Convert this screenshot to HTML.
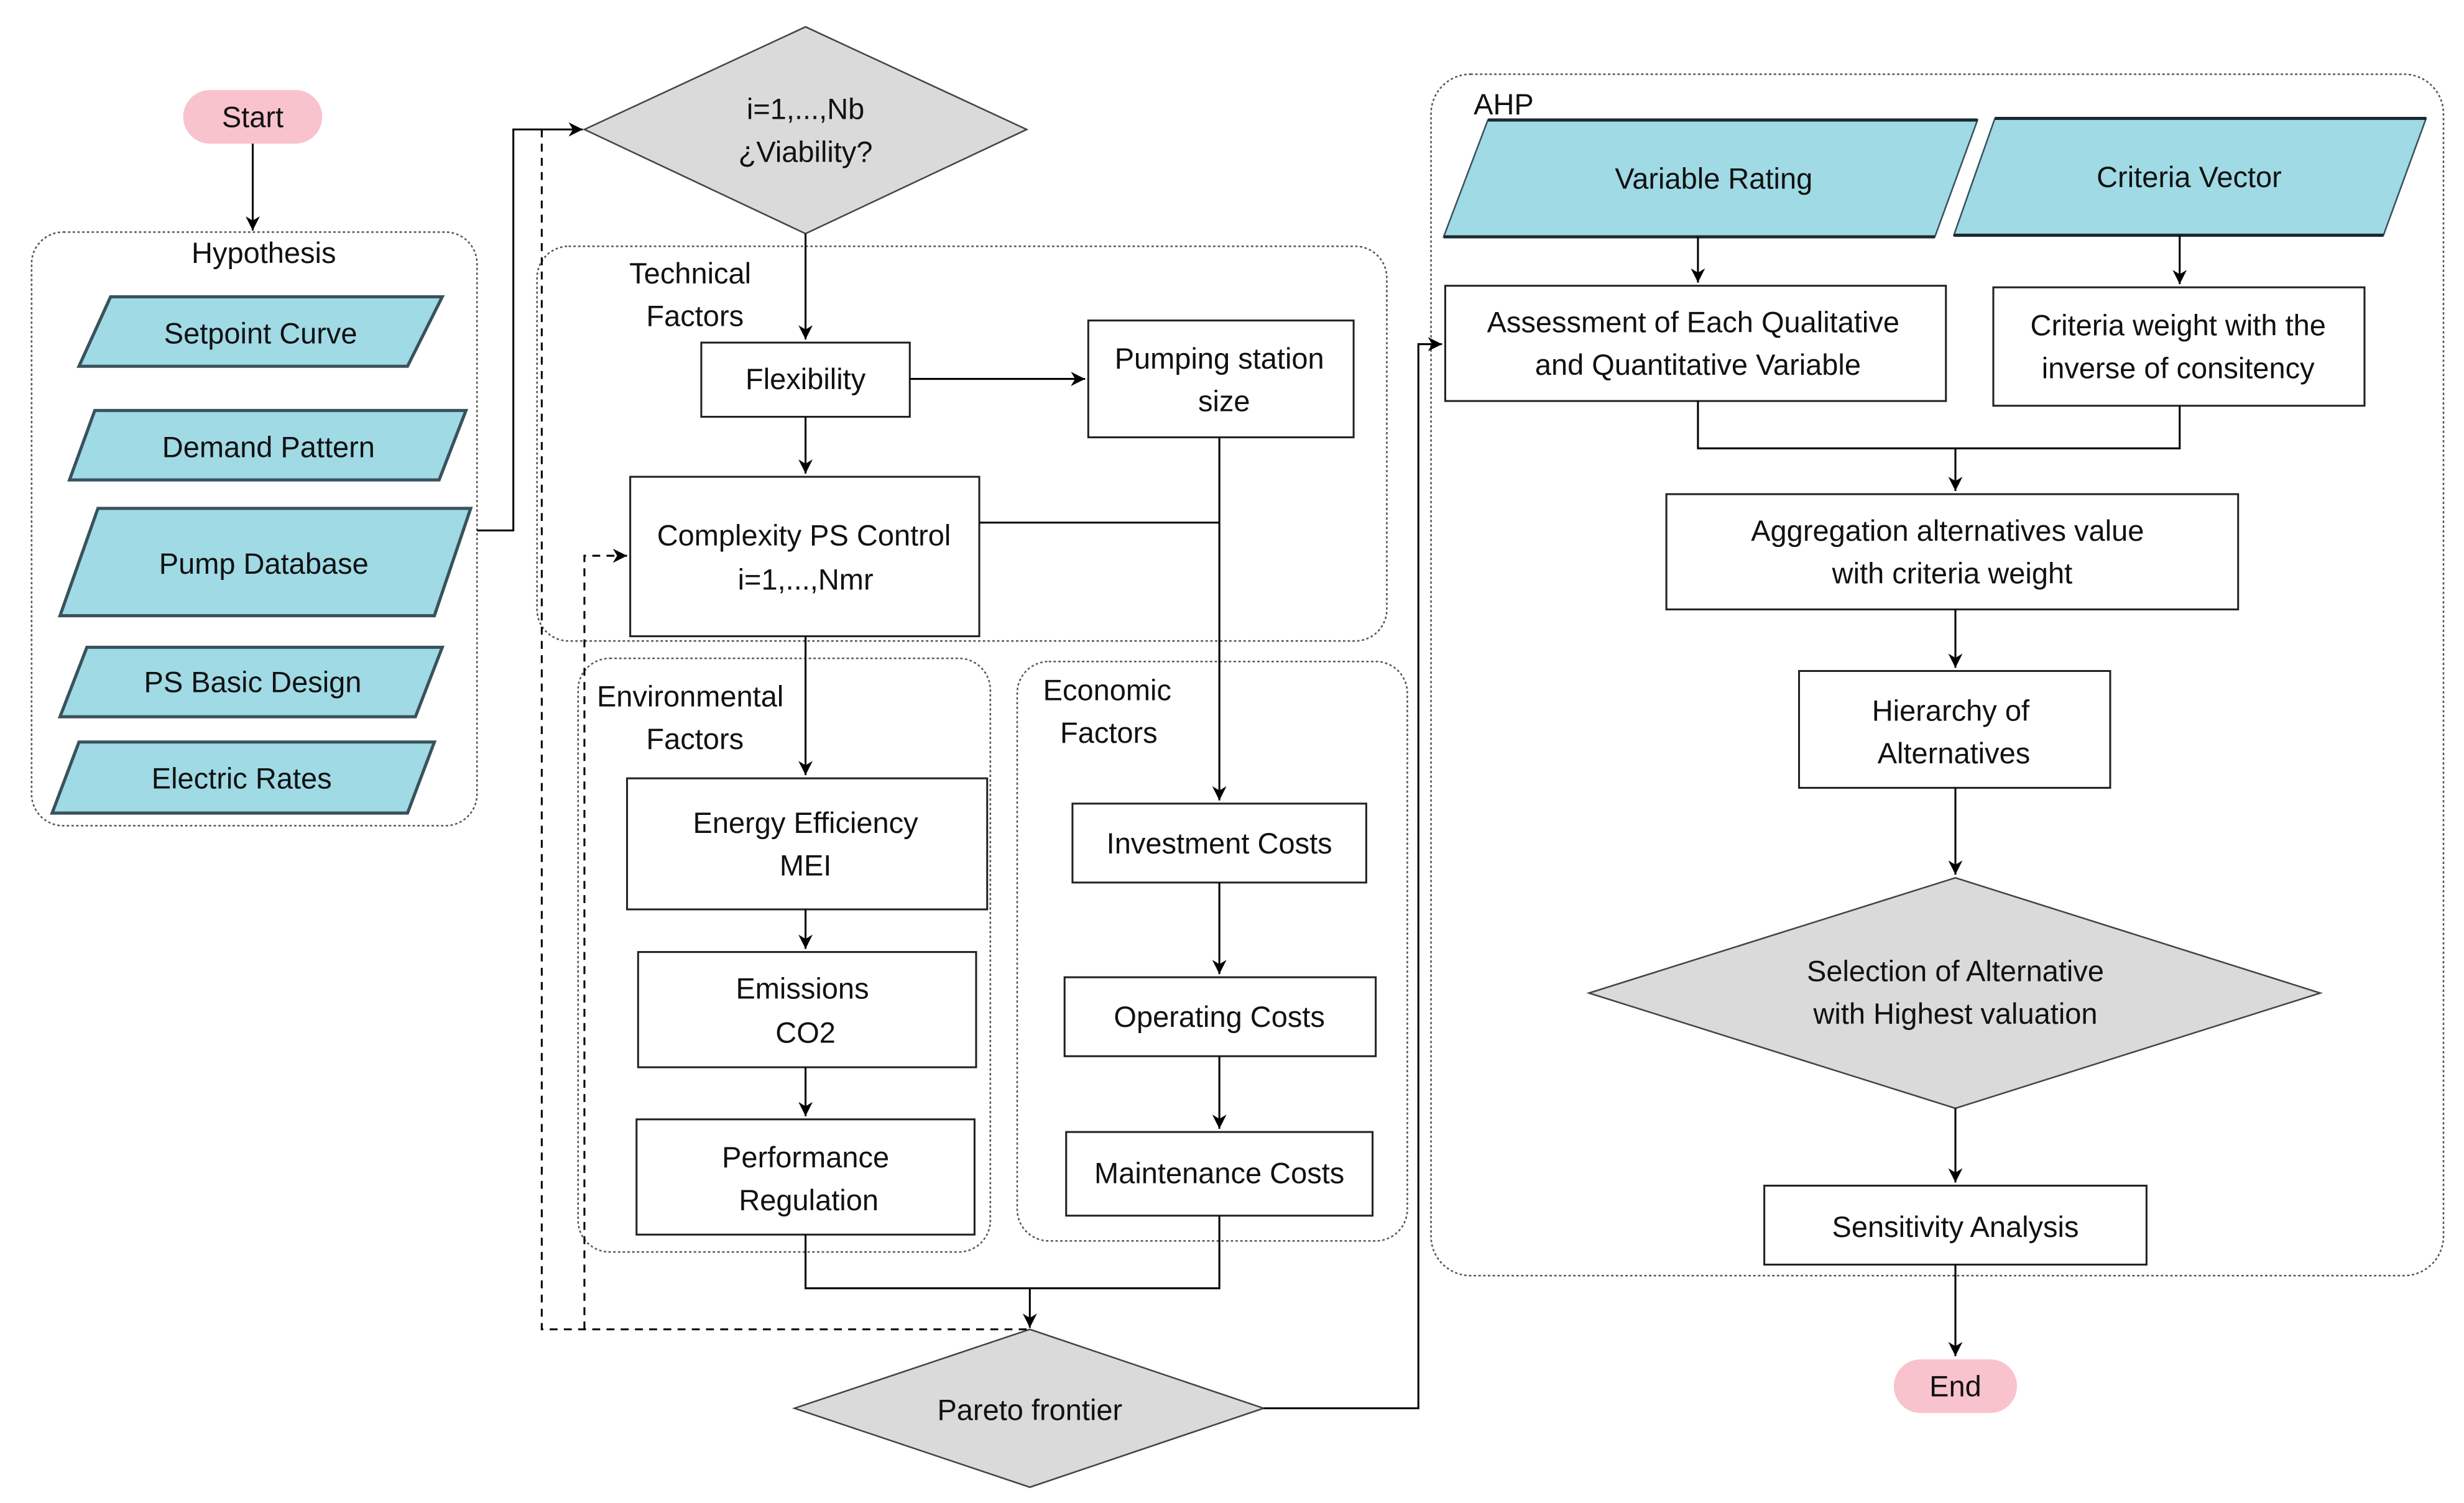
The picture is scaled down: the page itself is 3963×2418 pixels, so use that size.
<!DOCTYPE html>
<html><head><meta charset="utf-8"><style>html,body{margin:0;padding:0;background:#fff}svg{display:block}</style></head>
<body>
<svg width="3963" height="2418" viewBox="0 0 1560 952" preserveAspectRatio="none" xmlns="http://www.w3.org/2000/svg" font-family="Liberation Sans, sans-serif" font-size="18.5" fill="#111">
<defs>
<marker id="a" viewBox="0 0 10 10" refX="10" refY="5" markerWidth="9" markerHeight="9" markerUnits="userSpaceOnUse" orient="auto"><path d="M0,0 L10,5 L0,10 L3,5 z" fill="#000"/></marker>
</defs>
<g fill="none" stroke="#555" stroke-width="1" stroke-dasharray="1.5,1.5">
<rect x="20" y="147" width="282" height="376" rx="20"/>
<rect x="340" y="156" width="538" height="250" rx="20"/>
<rect x="366" y="417" width="261" height="376" rx="20"/>
<rect x="644" y="419" width="247" height="367" rx="20"/>
<rect x="906" y="47" width="641" height="761" rx="25"/>
</g>
<!-- shapes -->
<rect x="116" y="57" width="88" height="34" rx="17" fill="#F9C3CE"/>
<rect x="1199" y="861" width="78" height="34" rx="17" fill="#F9C3CE"/>
<g fill="#9FDAE5" stroke="#3a525c" stroke-width="2">
<polygon points="70,188 280,188 258,232 50,232"/>
<polygon points="60,260 295,260 278,304 44,304"/>
<polygon points="62,322 298,322 275,390 38,390"/>
<polygon points="55,410 280,410 263,454 38,454"/>
<polygon points="50,470 275,470 258,515 33,515"/>
</g>
<g fill="#9FDAE5" stroke="#3a525c" stroke-width="1">
<polygon points="942,76 1252,76 1225,150 914,150"/>
<polygon points="1263,75 1536,75 1509,149 1237,149"/>
</g>
<g stroke="#1c2a30" stroke-width="2">
<path d="M942,76 H1252 M914,150 H1225 M1263,75 H1536 M1237,149 H1509"/>
</g>
<g fill="#DADADA" stroke="#444" stroke-width="1">
<polygon points="370,82 510,17 650,82 510,148"/>
<polygon points="503,892 652,842 800,892 652,942"/>
<polygon points="1006,629 1238,556 1469,629 1238,702"/>
</g>
<g fill="#fff" stroke="#222" stroke-width="1.2">
<rect x="444" y="217" width="132" height="47"/>
<rect x="689" y="203" width="168" height="74"/>
<rect x="399" y="302" width="221" height="101"/>
<rect x="397" y="493" width="228" height="83"/>
<rect x="404" y="603" width="214" height="73"/>
<rect x="403" y="709" width="214" height="73"/>
<rect x="679" y="509" width="186" height="50"/>
<rect x="674" y="619" width="197" height="50"/>
<rect x="675" y="717" width="194" height="53"/>
<rect x="915" y="181" width="317" height="73"/>
<rect x="1262" y="182" width="235" height="75"/>
<rect x="1055" y="313" width="362" height="73"/>
<rect x="1139" y="425" width="197" height="74"/>
<rect x="1117" y="751" width="242" height="50"/>
</g>
<!-- connectors -->
<g fill="none" stroke="#000" stroke-width="1.2">
<path d="M160,91 V146" marker-end="url(#a)"/>
<path d="M302,336 H325 V82 H369" marker-end="url(#a)"/>
<path d="M510,148 V215" marker-end="url(#a)"/>
<path d="M576,240 H687" marker-end="url(#a)"/>
<path d="M510,264 V300" marker-end="url(#a)"/>
<path d="M772,277 V507" marker-end="url(#a)"/>
<path d="M620,331 H772"/>
<path d="M510,403 V491" marker-end="url(#a)"/>
<path d="M510,576 V601" marker-end="url(#a)"/>
<path d="M510,676 V707" marker-end="url(#a)"/>
<path d="M772,559 V617" marker-end="url(#a)"/>
<path d="M772,669 V715" marker-end="url(#a)"/>
<path d="M510,782 V816 H772 V770"/>
<path d="M652,816 V841" marker-end="url(#a)"/>
<path d="M800,892 H898 V218 H913" marker-end="url(#a)"/>
<path d="M1075,150 V179" marker-end="url(#a)"/>
<path d="M1380,149 V180" marker-end="url(#a)"/>
<path d="M1075,254 V284 H1380 V257"/>
<path d="M1238,284 V311" marker-end="url(#a)"/>
<path d="M1238,386 V423" marker-end="url(#a)"/>
<path d="M1238,499 V554" marker-end="url(#a)"/>
<path d="M1238,702 V749" marker-end="url(#a)"/>
<path d="M1238,801 V859" marker-end="url(#a)"/>
<g stroke-dasharray="5,4">
<path d="M343,82 V842 H652"/>
<path d="M370,842 V352 H397" marker-end="url(#a)"/>
</g>
</g>
<!-- text -->
<g text-anchor="middle" dominant-baseline="central">
<text x="160" y="74">Start</text>
<text x="1238" y="878">End</text>
<text x="167" y="160">Hypothesis</text>
<text x="165" y="211">Setpoint Curve</text>
<text x="170" y="283">Demand Pattern</text>
<text x="167" y="357">Pump Database</text>
<text x="160" y="432">PS Basic Design</text>
<text x="153" y="493">Electric Rates</text>
<text x="510" y="69">i=1,...,Nb</text>
<text x="510" y="96">¿Viability?</text>
<text x="437" y="173">Technical</text>
<text x="440" y="200">Factors</text>
<text x="510" y="240">Flexibility</text>
<text x="772" y="227">Pumping station</text>
<text x="775" y="254">size</text>
<text x="509" y="339">Complexity PS Control</text>
<text x="510" y="367">i=1,...,Nmr</text>
<text x="437" y="441">Environmental</text>
<text x="440" y="468">Factors</text>
<text x="510" y="521">Energy Efficiency</text>
<text x="510" y="548">MEI</text>
<text x="508" y="626">Emissions</text>
<text x="510" y="654">CO2</text>
<text x="510" y="733">Performance</text>
<text x="512" y="760">Regulation</text>
<text x="701" y="437">Economic</text>
<text x="702" y="464">Factors</text>
<text x="772" y="534">Investment Costs</text>
<text x="772" y="644">Operating Costs</text>
<text x="772" y="743">Maintenance Costs</text>
<text x="652" y="893">Pareto frontier</text>
<text x="952" y="66">AHP</text>
<text x="1085" y="113">Variable Rating</text>
<text x="1386" y="112">Criteria Vector</text>
<text x="1072" y="204">Assessment of Each Qualitative</text>
<text x="1075" y="231">and Quantitative Variable</text>
<text x="1379" y="206">Criteria weight with the</text>
<text x="1379" y="233">inverse of consitency</text>
<text x="1233" y="336">Aggregation alternatives value</text>
<text x="1236" y="363">with criteria weight</text>
<text x="1235" y="450">Hierarchy of</text>
<text x="1237" y="477">Alternatives</text>
<text x="1238" y="615">Selection of Alternative</text>
<text x="1238" y="642">with Highest valuation</text>
<text x="1238" y="777">Sensitivity Analysis</text>
</g>
</svg>
</body></html>
